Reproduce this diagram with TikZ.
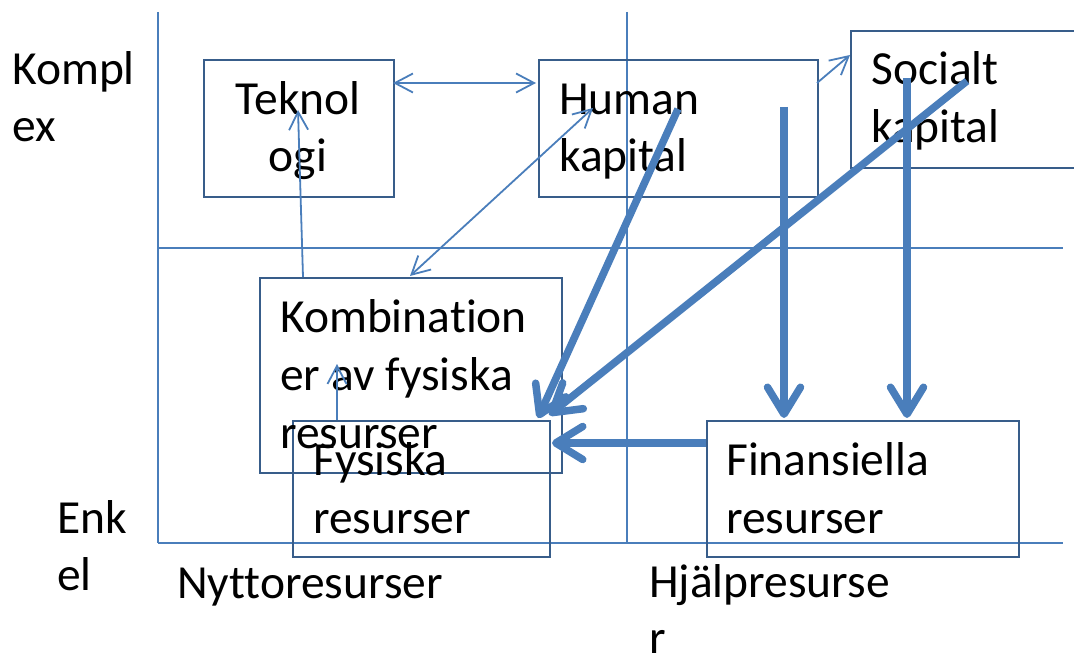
\documentclass[tikz,border=0pt]{standalone}
\usepackage{fontspec}
\setmainfont{Carlito}[Ligatures=NoCommon]
\usetikzlibrary{arrows.meta,calc}
\definecolor{gridc}{HTML}{4A7EBB}
\definecolor{boxc}{HTML}{385D8A}
\definecolor{arrc}{HTML}{4A7EBB}
\tikzset{
  gridline/.style={draw=gridc, line width=1.6pt},
  boxnode/.style={draw=boxc, line width=1.8pt, rectangle, inner sep=0pt, anchor=north west},
  txt/.style={inner sep=0pt, anchor=base west, font=\fontsize{47.5}{57.5}\selectfont},
  ctxt/.style={inner sep=0pt, anchor=base, font=\fontsize{47.5}{57.5}\selectfont},
  thin/.style={draw=arrc, line width=1.8pt, -{Straight Barb[length=18pt,width=19pt]}},
  thinboth/.style={draw=arrc, line width=1.8pt, {Straight Barb[length=18pt,width=19pt]}-{Straight Barb[length=18pt,width=19pt]}},
  thick/.style={draw=arrc, line width=7.5pt, -{Straight Barb[length=27pt,width=33pt,round]}}
}
\begin{document}
\begin{tikzpicture}[x=1pt,y=-1pt]
\clip (0,0) rectangle (1074,655);
\useasboundingbox (0,0) rectangle (1074,655);
% grid
\draw[gridline] (158,12) -- (158,543);
\draw[gridline] (627,12) -- (627,543);
\draw[gridline] (158,248) -- (1063,248);
\draw[gridline] (158,543) -- (1063,543);
% boxes
\node[boxnode, minimum width=190pt, minimum height=137pt] (tek) at (203,59) {};
\node[boxnode, minimum width=279pt, minimum height=137pt] (hum) at (538,59) {};
\node[boxnode, minimum width=240pt, minimum height=137pt] (soc) at (850,30) {};
\node[boxnode, minimum width=302pt, minimum height=195pt] (kom) at (259,277) {};
\node[boxnode, minimum width=257pt, minimum height=136pt] (fys) at (292,420) {};
\node[boxnode, minimum width=312pt, minimum height=136pt] (fin) at (706,420) {};
% texts
\node[ctxt] (tek1) at (298,115) {Teknol};
\node[ctxt] (tek2) at (298,172) {ogi};
\node[txt] (hum1) at (559,115) {Human};
\node[txt] (hum2) at (559,172) {kapital};
\node[txt] (soc1) at (871,85) {Socialt};
\node[txt] (soc2) at (871,143) {kapital};
\node[txt] (kom1) at (280,332) {Kombination};
\node[txt] (kom2) at (280,390) {er av fysiska};
\node[txt] (kom3) at (280,448) {resurser};
\node[txt] (fys1) at (313,475) {Fysiska};
\node[txt] (fys2) at (313,533) {resurser};
\node[txt] (fin1) at (726,475) {Finansiella};
\node[txt] (fin2) at (726,533) {resurser};
\node[txt] (kp1) at (12,85) {Kompl};
\node[txt] (kp2) at (12,142) {ex};
\node[txt] (en1) at (57,533) {Enk};
\node[txt] (en2) at (57,590) {el};
\node[txt] (ny) at (177,598) {Nyttoresurser};
\node[txt] (hj1) at (649,597) {Hjälpresurse};
\node[txt] (hj2) at (649,653) {r};
% connector end points
\coordinate (a1s) at (393,83);
\coordinate (a1e) at (536,83);
\coordinate (a2s) at (303,277);
\coordinate (a2e) at (298,110);
\coordinate (a3s) at (410,276);
\coordinate (a3e) at (593,108);
\coordinate (a4s) at (817,83);
\coordinate (a4e) at (850,55);
\coordinate (a5s) at (337,420);
\coordinate (a5e) at (337,364);
\coordinate (b1s) at (678,109);
\coordinate (b1e) at (538,418);
\coordinate (b2s) at (967,81);
\coordinate (b2e) at (549,415);
\coordinate (b3s) at (784,107);
\coordinate (b3e) at (784,418);
\coordinate (b4s) at (907,78);
\coordinate (b4e) at (907,418);
\coordinate (b5s) at (706,443);
\coordinate (b5e) at (552,443);
% thin arrows
\draw[thinboth] (a1s) -- (a1e);
\draw[thin] (a2s) -- (a2e);
\draw[thinboth] (a3s) -- (a3e);
\draw[thin] (a4s) -- (a4e);
\draw[thin] (a5s) -- (a5e);
% thick arrows
\draw[thick] (b1s) -- (b1e);
\draw[thick] (b2s) -- (b2e);
\draw[thick] (b3s) -- (b3e);
\draw[thick] (b4s) -- (b4e);
\draw[thick] (b5s) -- (b5e);
\end{tikzpicture}
\end{document}
